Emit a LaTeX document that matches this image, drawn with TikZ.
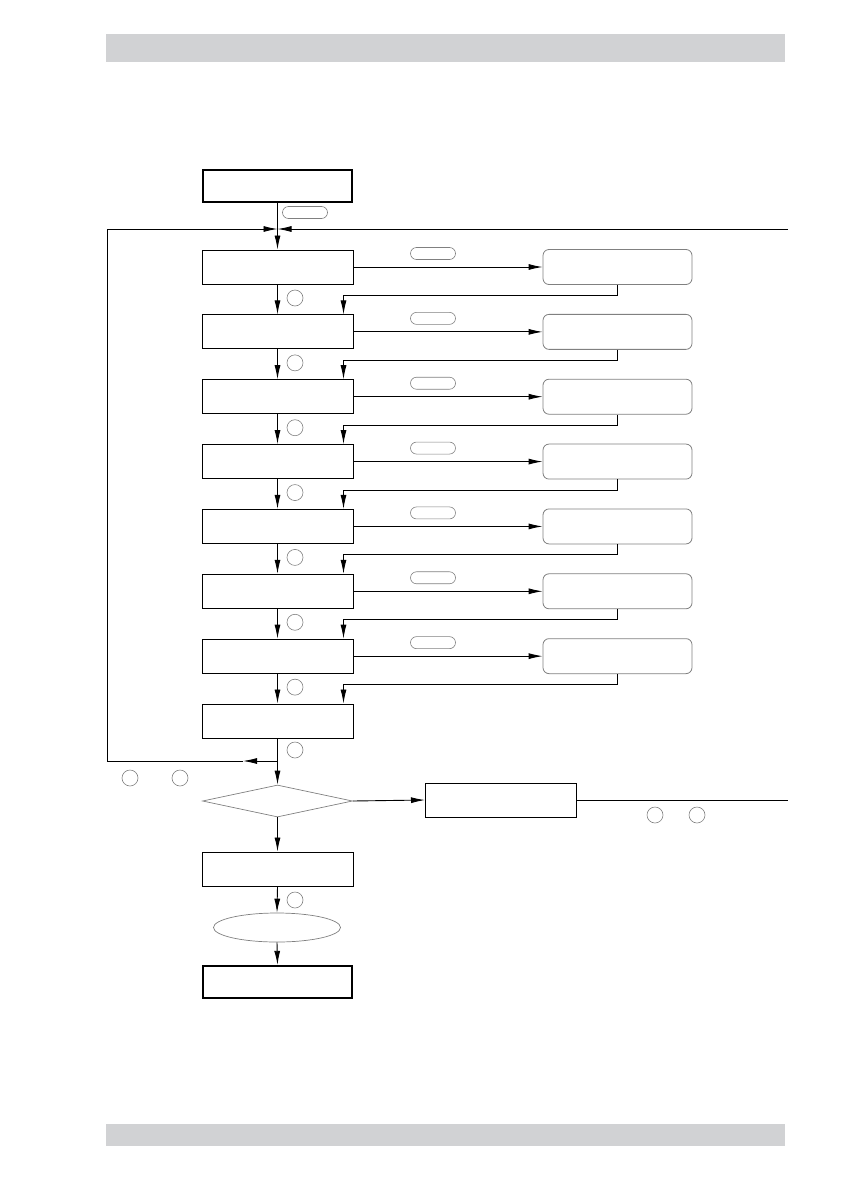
\documentclass[tikz,border=0pt]{standalone}
\usetikzlibrary{arrows.meta,shapes.geometric,calc}
\definecolor{barg}{HTML}{D1D2D4}
\definecolor{lgray}{HTML}{808080}
\tikzset{
  x=1pt,y=-1pt,
  ln/.style={line width=0.9pt,black},
  arr/.style={ln,-{Latex[length=14pt,width=6pt]}},
  proc/.style={draw,line width=1pt,rectangle,minimum width=151pt,minimum height=34pt,inner sep=0pt},
  term/.style={proc,line width=2.4pt,minimum width=149pt,minimum height=32pt},
  rbox/.style={draw=lgray,line width=0.8pt,rounded corners=6pt,rectangle,minimum width=149pt,minimum height=35pt,inner sep=0pt},
  pill/.style={draw=lgray,line width=0.6pt,rounded corners=6pt,rectangle,minimum width=45pt,minimum height=12pt,inner sep=0pt},
  circ/.style={draw=lgray,line width=0.6pt,circle,minimum size=16pt,inner sep=0pt},
  dec/.style={draw=lgray,line width=0.7pt,diamond,minimum width=150pt,minimum height=32pt,inner sep=0pt},
  ell/.style={draw=lgray,line width=0.7pt,ellipse,minimum width=127pt,minimum height=29pt,inner sep=0pt},
}
\begin{document}
\begin{tikzpicture}
\useasboundingbox (0,0) rectangle (843,1191);
% grey bars
\fill[barg] (106,34) rectangle (785,62);
\fill[barg] (106,1124) rectangle (785,1146);
% start
\node[term] (s) at (277.5,186) {};
\coordinate (J) at (277.5,229);
\node[pill] (ps) at (305,212.5) {};
% process boxes and side boxes
\foreach \i [evaluate=\i as \yy using {267+64.857*(\i-1)}] in {1,...,8}{
  \node[proc] (p\i) at (277.5,\yy) {};
}
\foreach \i [evaluate=\i as \yy using {267+64.857*(\i-1)}] in {1,...,7}{
  \node[rbox] (r\i) at (617.5,\yy) {};
  \node[pill] (pl\i) at (433,\yy-13.5) {};
  \node[circ] (c\i) at (295,\yy+31) {};
}
\node[circ] (c8) at (295,750) {};
% decision etc
\node[dec] (d) at (277.5,801) {};
\node[proc] (q) at (501,800) {};
\node[proc] (p9) at (277.5,869) {};
\node[circ] (c9) at (295,900) {};
\node[ell] (e) at (277,927.5) {};
\node[term] (f) at (277.5,982) {};
\node[circ] (cl1) at (130,778) {};
\node[circ] (cl2) at (180,778) {};
\node[circ] (cr1) at (655,815) {};
\node[circ] (cr2) at (697,815) {};
% connectors
\draw[ln] (s.south) -- (J);
\draw[arr] (J) -- (p1.north);
\foreach \i [evaluate=\i as \j using int(\i+1)] in {1,...,7}{
  \draw[arr] (p\i.south) -- (p\j.north);
  \draw[arr] (p\i.east) -- (r\i.west);
  \draw[arr] (r\i.south) -- ++(0,10.5) -| ([xshift=-10pt]p\j.north east);
}
\coordinate (B) at (277.5,761);
\coordinate (BA) at (243,761);
\coordinate (BL) at (107,761);
\coordinate (TL) at (107,229);
\coordinate (TR) at (788,229);
\coordinate (RR) at (788,800);
\draw[arr] (p8.south) -- (d.north);
\draw[arr] (B) -- (BA);
\draw[arr] (BA) -- (BL) -- (TL) -- (J);
\draw[arr] (TR) -- (J);
\draw[arr] (d.east) -- (q.west);
\draw[ln] (q.east) -- (RR);
\draw[arr] (d.south) -- (p9.north);
\draw[arr] (p9.south) -- (e.north);
\draw[arr] (e.south) -- (f.north);
\end{tikzpicture}
\end{document}
